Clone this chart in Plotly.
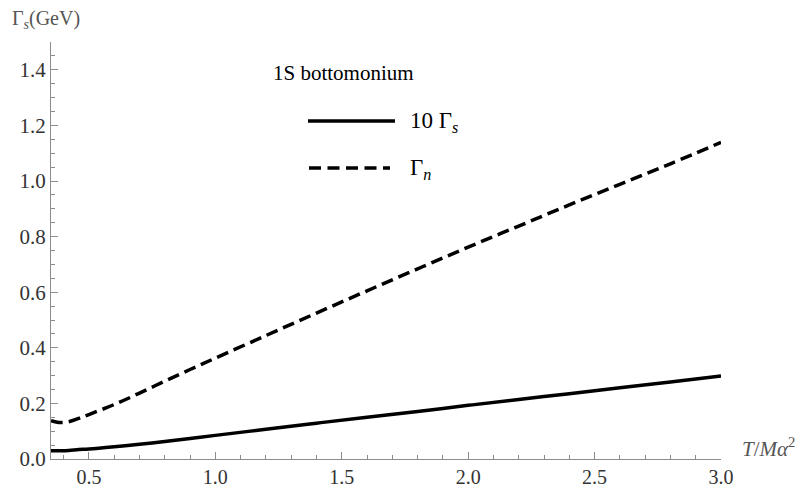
import plotly.graph_objects as go

# Data
t_vals = [0.35, 0.37, 0.39, 0.42, 0.46, 0.50, 0.60, 0.70, 0.80, 0.90, 1.00, 1.20, 1.40, 1.60,
          1.80, 2.00, 2.20, 2.40, 2.60, 2.80, 3.00]
gamma_n = [0.138, 0.133, 0.131, 0.134, 0.146, 0.160, 0.196, 0.237, 0.280, 0.322, 0.363, 0.444,
           0.525, 0.605, 0.684, 0.762, 0.838, 0.914, 0.988, 1.062, 1.139]
gamma_s10 = [0.030, 0.030, 0.030, 0.031, 0.034, 0.036, 0.044, 0.053, 0.063, 0.074, 0.085, 0.107,
             0.129, 0.150, 0.171, 0.193, 0.214, 0.235, 0.256, 0.277, 0.2985]

x_ticks = [0.5, 1.0, 1.5, 2.0, 2.5, 3.0]
y_ticks = [0.0, 0.2, 0.4, 0.6, 0.8, 1.0, 1.2, 1.4]

SERIF = "Liberation Serif, Times New Roman, serif"
AX = "#8c8c8c"

fig = go.Figure()
fig.add_trace(go.Scatter(x=t_vals, y=gamma_s10, mode="lines", line_shape="spline",
                         line=dict(color="black", width=3.5), showlegend=False))
fig.add_trace(go.Scatter(x=t_vals, y=gamma_n, mode="lines", line_shape="spline",
                         line=dict(color="black", width=3.5, dash="12px,6px"), showlegend=False))

fig.update_layout(
    width=807, height=488,
    margin=dict(l=51, r=86, t=42, b=29),
    plot_bgcolor="white", paper_bgcolor="white",
    font=dict(family=SERIF, color="#333333", size=20),
    xaxis=dict(range=[0.35, 3.0], tickvals=x_ticks, ticktext=[f"{v:.1f}" for v in x_ticks],
               showgrid=False, zeroline=False, showline=True, linecolor=AX, linewidth=1.3,
               ticks="inside", ticklen=7, tickcolor=AX, tickwidth=1, ticklabelstandoff=0,
               automargin=False,
               minor=dict(ticks="inside", tick0=0, dtick=0.1, ticklen=4, tickcolor=AX, tickwidth=1),
               tickfont=dict(family=SERIF, size=20, color="#333333")),
    yaxis=dict(range=[0, 1.5], tickvals=y_ticks, ticktext=[f"{v:.1f}" for v in y_ticks],
               showgrid=False, zeroline=False, showline=True, linecolor=AX, linewidth=1.3,
               ticks="inside", ticklen=7, tickcolor=AX, tickwidth=1, automargin=False,
               minor=dict(ticks="inside", tick0=0, dtick=0.05, ticklen=4, tickcolor=AX, tickwidth=1),
               tickfont=dict(family=SERIF, size=21, color="#333333")),
)

# Axis labels
fig.add_annotation(xref="paper", yref="paper", x=-0.061, y=1.053, xanchor="left", yanchor="middle",
                   text="Γ<sub><i>s</i></sub>(GeV)", showarrow=False,
                   font=dict(family=SERIF, size=20, color="#555555"))
fig.add_annotation(xref="paper", yref="paper", x=1.028, y=0.0, xanchor="left", yanchor="bottom",
                   text="<i>T</i>/<i>Mα</i><sup>2</sup>", showarrow=False, yshift=-4,
                   font=dict(family=SERIF, size=21, color="#555555"))

# Inset label and legend
fig.add_annotation(xref="paper", yref="paper", x=(271 - 51) / 670, y=(459 - 73) / 417,
                   xanchor="left", yanchor="middle", text="1S bottomonium", showarrow=False,
                   font=dict(family=SERIF, size=21, color="black"))
fig.add_shape(type="line", xref="paper", yref="paper",
              x0=(308 - 51) / 670, x1=(395 - 51) / 670, y0=(459 - 121) / 417, y1=(459 - 121) / 417,
              line=dict(color="black", width=3.5))
fig.add_annotation(xref="paper", yref="paper", x=(408 - 51) / 670, y=(459 - 122) / 417,
                   xanchor="left", yanchor="middle", text="10 Γ<sub><i>s</i></sub>", showarrow=False,
                   font=dict(family=SERIF, size=23, color="black"))
fig.add_shape(type="line", xref="paper", yref="paper",
              x0=(309 - 51) / 670, x1=(390 - 51) / 670, y0=(459 - 168) / 417, y1=(459 - 168) / 417,
              line=dict(color="black", width=3.5, dash="12px,6.5px"))
fig.add_annotation(xref="paper", yref="paper", x=(408 - 51) / 670, y=(459 - 169) / 417,
                   xanchor="left", yanchor="middle", text="Γ<sub><i>n</i></sub>", showarrow=False,
                   font=dict(family=SERIF, size=23, color="black"))

fig.write_html("out.html")
